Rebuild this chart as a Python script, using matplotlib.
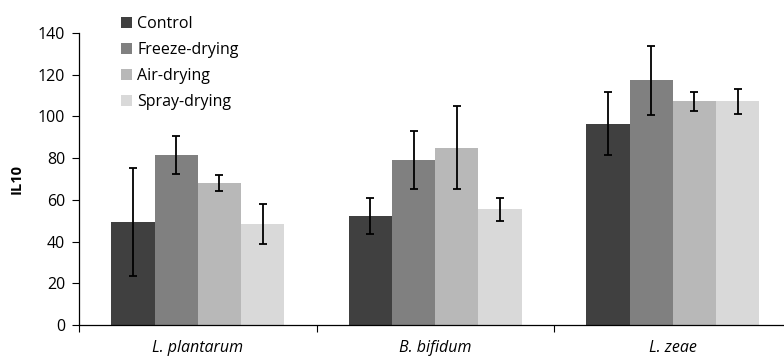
import numpy as np
import matplotlib.pyplot as plt

plt.rcParams['font.family'] = ['Open Sans', 'DejaVu Sans']

# 数据
strains = ['L. plantarum', 'B. bifidum', 'L. zeae']
methods = ['Control', 'Freeze-drying', 'Air-drying', 'Spray-drying']
il10_control = [49.3, 52.2, 96.5]
il10_freeze = [81.6, 79.2, 117.3]
il10_air = [68.0, 85.0, 107.2]
il10_spray = [48.3, 55.4, 107.2]
err_control = [26.0, 8.8, 15.0]
err_freeze = [9.2, 14.0, 16.4]
err_air = [3.8, 20.0, 4.6]
err_spray = [9.6, 5.7, 6.0]
colors = ['#404040', '#808080', '#b8b8b8', '#d9d9d9']

values = [il10_control, il10_freeze, il10_air, il10_spray]
errors = [err_control, err_freeze, err_air, err_spray]

fig = plt.figure(figsize=(7.84, 3.58), dpi=100)
ax = fig.add_axes([79/784, 33/358, 712.5/784, 292/358])

x = np.arange(len(strains))
w = 1/5.5
for i in range(4):
    pos = x - 2*w + w/2 + i*w
    ax.bar(pos, values[i], w, color=colors[i], label=methods[i], zorder=2)
    ax.errorbar(pos, values[i], yerr=errors[i], fmt='none', ecolor='black',
                elinewidth=1.3, capsize=2.6, capthick=1.3, zorder=3)

#坐标轴
ax.set_xlim(-0.5, 2.5)
ax.set_ylim(0, 140)
ax.set_yticks(range(0, 141, 20))
ax.set_xticks(x)
ax.set_xticklabels(strains, fontstyle='italic', fontsize=11.5)
ax.set_xticks([-0.5, 0.5, 1.5, 2.5], minor=True)
ax.tick_params(axis='x', which='major', length=0, pad=11)
ax.tick_params(axis='x', which='minor', length=5, width=0.8, direction='out')
ax.tick_params(axis='y', labelsize=11.5, length=5, width=0.8, direction='out', pad=5)
ax.set_ylabel('IL10', fontweight='bold', fontsize=10.5, labelpad=10)
for s in ['top', 'right']:
    ax.spines[s].set_visible(False)
ax.spines['left'].set_linewidth(0.9)
ax.spines['bottom'].set_linewidth(0.9)

ax.legend(loc='upper left', bbox_to_anchor=(0.048, 1.085), frameon=False,
          fontsize=11.5, handlelength=0.65, handleheight=0.65, handletextpad=0.35,
          labelspacing=0.62, borderpad=0)

plt.savefig('out.png', dpi=100)
